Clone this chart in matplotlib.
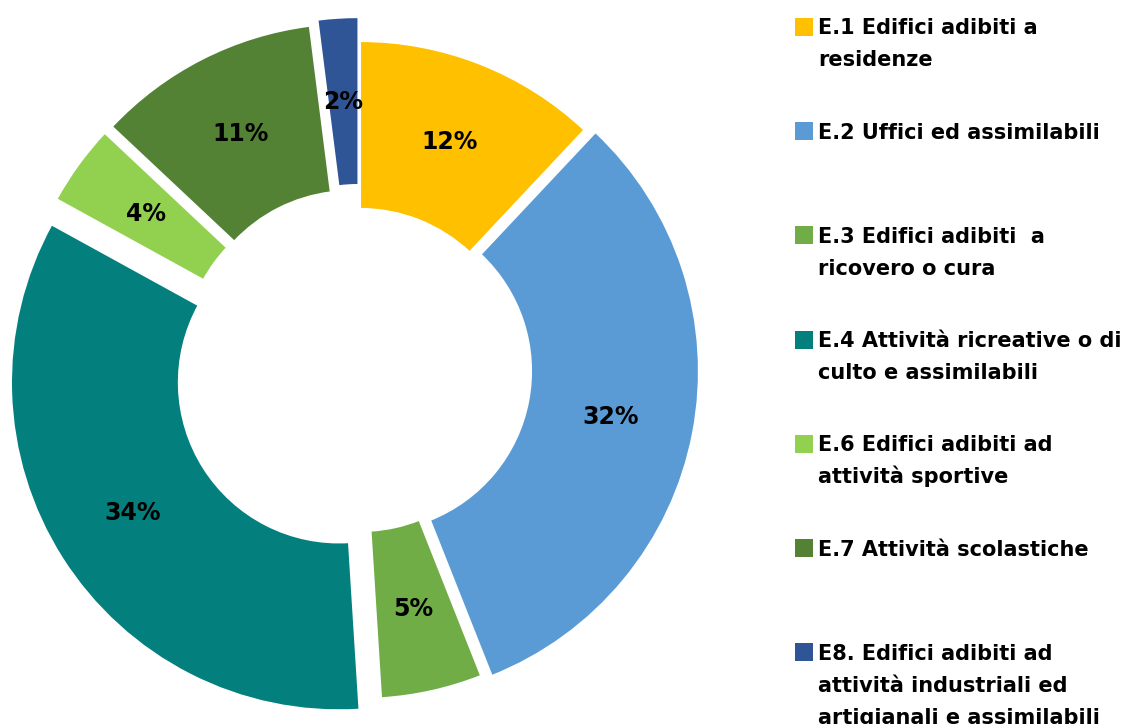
import matplotlib
matplotlib.use('Agg')
import matplotlib.pyplot as plt
from matplotlib.patches import Rectangle

# data
labels = ['E.1 Edifici adibiti a\nresidenze',
          'E.2 Uffici ed assimilabili',
          'E.3 Edifici adibiti  a\nricovero o cura',
          'E.4 Attività ricreative o di\nculto e assimilabili',
          'E.6 Edifici adibiti ad\nattività sportive',
          'E.7 Attività scolastiche',
          'E8. Edifici adibiti ad\nattività industriali ed\nartigianali e assimilabili']
shares = [12, 32, 5, 34, 4, 11, 2]
colors = ['#FFC000', '#5B9BD5', '#70AD47', '#037F7E', '#92D050', '#548235', '#2F5597']
explode = [0.0, 0.034, 0.006, 0.076, 0.061, 0.061, 0.073]

W, H = 1126, 724
fig = plt.figure(figsize=(W / 100, H / 100), dpi=100)

# donut: center (360, 369) px, outer radius 328 px
R_px = 328
cx, cy = 360, 369
size = 2.2 * R_px
ax = fig.add_axes([(cx - size / 2) / W, (H - cy - size / 2) / H, size / W, size / H])
wedges, texts, autotexts = ax.pie(shares, colors=colors, explode=explode,
                                  startangle=90, counterclock=False,
                                  autopct='%1.0f%%', pctdistance=0.744,
                                  wedgeprops=dict(width=0.512, edgecolor='white', linewidth=1.5),
                                  textprops=dict(fontsize=17, fontweight='bold', color='black'))
for w in wedges:
    w.set_clip_on(False)
ax.set_xlim(-1.1, 1.1)
ax.set_ylim(-1.1, 1.1)
ax.set_aspect('equal')
ax.axis('off')

# legend drawn by hand so entries are evenly spaced
first_y = 27
step = 104.2
line_gap = 32
for i, (lab, col) in enumerate(zip(labels, colors)):
    yc = first_y + i * step
    fig.patches.append(Rectangle((795 / W, 1 - (yc + 9) / H), 18 / W, 18 / H,
                                 facecolor=col, edgecolor='none', transform=fig.transFigure))
    for j, line in enumerate(lab.split('\n')):
        yb = yc + j * line_gap + 7.5
        fig.text(818 / W, 1 - yb / H, line, fontsize=15, fontweight='bold',
                 color='black', va='baseline', ha='left')

fig.savefig('out.png', dpi=100)
